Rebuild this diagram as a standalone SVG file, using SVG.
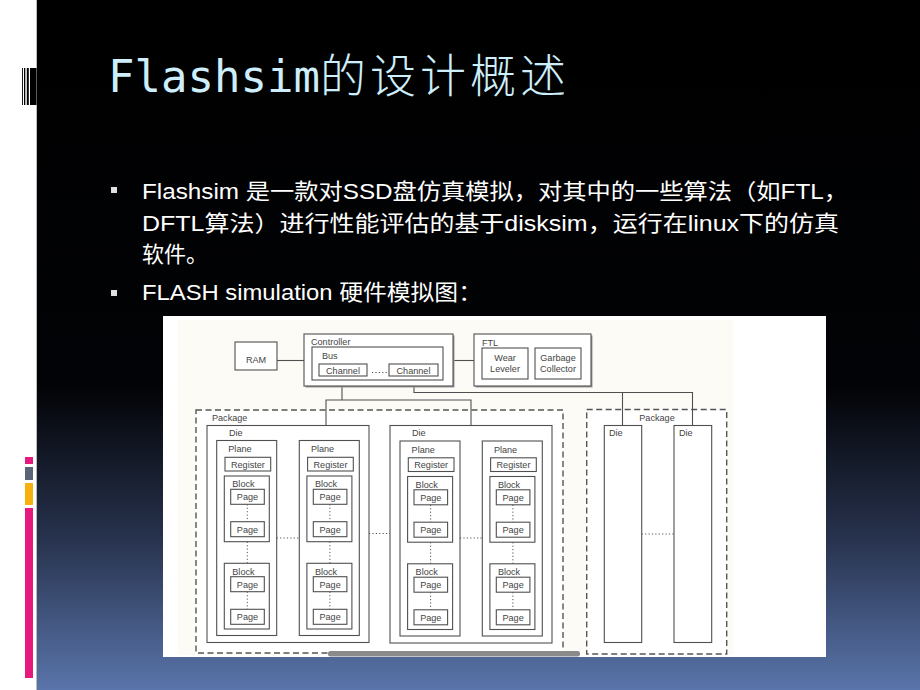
<svg xmlns="http://www.w3.org/2000/svg" width="920" height="690" viewBox="0 0 920 690">
<defs>
<linearGradient id="bg" x1="0" y1="0" x2="0" y2="1">
<stop offset="0" stop-color="#000"/>
<stop offset="0.56" stop-color="#020306"/>
<stop offset="0.78" stop-color="#27324d"/>
<stop offset="1" stop-color="#5a75ab"/>
</linearGradient>
<style>
.b{fill:#fff;stroke:#505050;stroke-width:1.1}
.t{font-family:"Liberation Sans",Arial,sans-serif;font-size:9.1px;fill:#444}
.c{text-anchor:middle}
.w{fill:none;stroke:#505050;stroke-width:1.1}
.d{fill:none;stroke:#555;stroke-width:1;stroke-dasharray:1.2,2.2}
.pk{fill:#fff;stroke:#555;stroke-width:1.4;stroke-dasharray:6,3.5}
.sh{fill:#9a9a9a}
.body{font-family:"Liberation Sans","Noto Sans CJK SC",sans-serif;font-size:22px;fill:#fff}
</style>
</defs>
<rect width="920" height="690" fill="url(#bg)"/>
<rect width="36" height="690" fill="#fff"/>
<line x1="36.5" y1="0" x2="36.5" y2="690" stroke="#bbb" stroke-width="1"/>
<g id="deco-top" fill="#000">
<rect x="22" y="68" width="0.9" height="37"/>
<rect x="24" y="68" width="1.3" height="37"/>
<rect x="26.8" y="68" width="2" height="37"/>
<rect x="30" y="68" width="6.5" height="37"/>
</g>
<g id="deco-bottom">
<rect x="25" y="457" width="8" height="7" fill="#e61a7d"/>
<rect x="25" y="467" width="8" height="13" fill="#5b6379"/>
<rect x="25" y="483" width="8" height="22" fill="#f8b00e"/>
<rect x="25" y="508" width="8" height="170" fill="#e61a7d"/>
</g>
<g id="title">
<text x="108" y="92" fill="#cdeefa"><tspan font-family="DejaVu Sans Mono,monospace" font-size="44">Flashsim</tspan><tspan font-family="Noto Sans CJK SC,sans-serif" font-size="46" font-weight="300" letter-spacing="4">的设计概述</tspan></text>
</g>
<g id="bullets">
<rect x="111" y="187" width="6" height="6" fill="#e0e0e0"/>
<rect x="111" y="290" width="6" height="6" fill="#e0e0e0"/>
<text class="body" x="142" y="199" textLength="706" lengthAdjust="spacingAndGlyphs">Flashsim 是一款对SSD盘仿真模拟，对其中的一些算法（如FTL，</text>
<text class="body" x="142" y="231" textLength="697" lengthAdjust="spacingAndGlyphs">DFTL算法）进行性能评估的基于disksim，运行在linux下的仿真</text>
<text class="body" x="142" y="262" textLength="66" lengthAdjust="spacingAndGlyphs">软件。</text>
<text class="body" x="142" y="300" textLength="340" lengthAdjust="spacingAndGlyphs">FLASH simulation 硬件模拟图：</text>
</g>
<g id="figure-bg">
<rect x="163" y="316" width="663" height="341" fill="#fff"/>
<rect x="178" y="320" width="555" height="335" fill="#fcfbf6"/>
</g>
<g id="package1">
<rect class="pk" x="196" y="410" width="367" height="243"/>
<text class="t" x="212" y="421">Package</text>
<g id="die1">
<rect class="w" x="207" y="425.5" width="162" height="217"/>
<text class="t" x="229" y="436">Die</text>
</g>
<g id="die2">
<rect class="w" x="390" y="425.5" width="162" height="217.5"/>
<text class="t" x="412" y="436">Die</text>
</g>
</g>
<g id="package2">
<rect class="pk" x="586.7" y="409.5" width="140" height="244.5"/>
<text class="t c" x="657" y="421">Package</text>
<g id="die3">
<rect class="w" x="604.3" y="425.5" width="37.4" height="217"/>
<text class="t" x="609" y="436">Die</text>
</g>
<g id="die4">
<rect class="w" x="674" y="425.5" width="37.7" height="217"/>
<text class="t" x="679" y="436">Die</text>
</g>
</g>
<rect id="bottom-bar" x="328" y="651" width="252" height="5.5" rx="2.5" fill="#8a8a8a"/>
<g id="connectors" class="w">
<path d="M277 360.5H304"/>
<path d="M453 360.5H474"/>
<path d="M342 376V400"/>
<path d="M326 425.5V400H471V425.5"/>
<path d="M414 376V392.5H692.5V425.5"/>
<path d="M622.5 392.5V425.5"/>
<path class="d" d="M276.7 538H299.3M369 533.5H390M460 538H482.3M641.7 534H674"/>
</g>
<g id="ram">
<rect class="b" x="235" y="342" width="42" height="28"/>
<text class="t c" x="256" y="363">RAM</text>
</g>
<g id="controller">
<rect class="sh" x="305.5" y="335.5" width="149" height="52"/>
<rect class="b" x="304" y="334" width="149" height="52" stroke-width="1.4"/>
<text class="t" x="311" y="345">Controller</text>
<g id="bus">
<rect class="b" x="312" y="347" width="131" height="33"/>
<text class="t" x="322" y="359">Bus</text>
</g>
<g id="channel1">
<rect class="b" x="319" y="364" width="48" height="12"/>
<text class="t c" x="343" y="373.5">Channel</text>
</g>
<path class="d" d="M372 372.5H388"/>
<g id="channel2">
<rect class="b" x="389" y="364" width="49" height="12"/>
<text class="t c" x="413.5" y="373.5">Channel</text>
</g>
</g>
<g id="ftl">
<rect class="sh" x="475.5" y="335.5" width="117" height="52"/>
<rect class="b" x="474" y="334" width="117" height="52" stroke-width="1.4"/>
<text class="t" x="482" y="346">FTL</text>
<g id="wear-leveler">
<rect class="b" x="482" y="348" width="46" height="31"/>
<text class="t c" x="505" y="361">Wear</text>
<text class="t c" x="505" y="372">Leveler</text>
</g>
<g id="garbage-collector">
<rect class="b" x="535" y="348" width="46" height="31"/>
<text class="t c" x="558" y="361">Garbage</text>
<text class="t c" x="558" y="372">Collector</text>
</g>
</g>
<g id="plane1" transform="translate(216.7,0)">
<rect class="w" x="0" y="440.5" width="60" height="195"/>
<text class="t" x="11.6" y="452">Plane</text>
<rect class="b" x="8.3" y="457.3" width="45.7" height="13.7"/><text class="t c" x="31.2" y="467.5">Register</text>
<rect class="b" x="7.6" y="476" width="45" height="65.7"/><text class="t" x="15.6" y="487">Block</text>
<rect class="b" x="14" y="489.3" width="33.6" height="15"/><text class="t c" x="30.8" y="500.3">Page</text>
<rect class="b" x="14" y="521.7" width="33.6" height="15"/><text class="t c" x="30.8" y="532.7">Page</text>
<rect class="b" x="7.6" y="563.3" width="45" height="65.7"/><text class="t" x="15.6" y="574.5">Block</text>
<rect class="b" x="14" y="576.7" width="33.6" height="15"/><text class="t c" x="30.8" y="587.7">Page</text>
<rect class="b" x="14" y="609.3" width="33.6" height="15"/><text class="t c" x="30.8" y="620.3">Page</text>
<path class="d" d="M30.6 504.3V521.7M30.6 541.7V563.3M30.6 591.7V609.3"/>
</g>
<g id="plane2" transform="translate(299.3,0)">
<rect class="w" x="0" y="440.5" width="60" height="195"/>
<text class="t" x="11.6" y="452">Plane</text>
<rect class="b" x="8.3" y="457.3" width="45.7" height="13.7"/><text class="t c" x="31.2" y="467.5">Register</text>
<rect class="b" x="7.6" y="476" width="45" height="65.7"/><text class="t" x="15.6" y="487">Block</text>
<rect class="b" x="14" y="489.3" width="33.6" height="15"/><text class="t c" x="30.8" y="500.3">Page</text>
<rect class="b" x="14" y="521.7" width="33.6" height="15"/><text class="t c" x="30.8" y="532.7">Page</text>
<rect class="b" x="7.6" y="563.3" width="45" height="65.7"/><text class="t" x="15.6" y="574.5">Block</text>
<rect class="b" x="14" y="576.7" width="33.6" height="15"/><text class="t c" x="30.8" y="587.7">Page</text>
<rect class="b" x="14" y="609.3" width="33.6" height="15"/><text class="t c" x="30.8" y="620.3">Page</text>
<path class="d" d="M30.6 504.3V521.7M30.6 541.7V563.3M30.6 591.7V609.3"/>
</g>
<g id="plane3" transform="translate(400,0.5)">
<rect class="w" x="0" y="440.5" width="60" height="195"/>
<text class="t" x="11.6" y="452">Plane</text>
<rect class="b" x="8.3" y="457.3" width="45.7" height="13.7"/><text class="t c" x="31.2" y="467.5">Register</text>
<rect class="b" x="7.6" y="476" width="45" height="65.7"/><text class="t" x="15.6" y="487">Block</text>
<rect class="b" x="14" y="489.3" width="33.6" height="15"/><text class="t c" x="30.8" y="500.3">Page</text>
<rect class="b" x="14" y="521.7" width="33.6" height="15"/><text class="t c" x="30.8" y="532.7">Page</text>
<rect class="b" x="7.6" y="563.3" width="45" height="65.7"/><text class="t" x="15.6" y="574.5">Block</text>
<rect class="b" x="14" y="576.7" width="33.6" height="15"/><text class="t c" x="30.8" y="587.7">Page</text>
<rect class="b" x="14" y="609.3" width="33.6" height="15"/><text class="t c" x="30.8" y="620.3">Page</text>
<path class="d" d="M30.6 504.3V521.7M30.6 541.7V563.3M30.6 591.7V609.3"/>
</g>
<g id="plane4" transform="translate(482.3,0.5)">
<rect class="w" x="0" y="440.5" width="60" height="195"/>
<text class="t" x="11.6" y="452">Plane</text>
<rect class="b" x="8.3" y="457.3" width="45.7" height="13.7"/><text class="t c" x="31.2" y="467.5">Register</text>
<rect class="b" x="7.6" y="476" width="45" height="65.7"/><text class="t" x="15.6" y="487">Block</text>
<rect class="b" x="14" y="489.3" width="33.6" height="15"/><text class="t c" x="30.8" y="500.3">Page</text>
<rect class="b" x="14" y="521.7" width="33.6" height="15"/><text class="t c" x="30.8" y="532.7">Page</text>
<rect class="b" x="7.6" y="563.3" width="45" height="65.7"/><text class="t" x="15.6" y="574.5">Block</text>
<rect class="b" x="14" y="576.7" width="33.6" height="15"/><text class="t c" x="30.8" y="587.7">Page</text>
<rect class="b" x="14" y="609.3" width="33.6" height="15"/><text class="t c" x="30.8" y="620.3">Page</text>
<path class="d" d="M30.6 504.3V521.7M30.6 541.7V563.3M30.6 591.7V609.3"/>
</g>
</svg>
